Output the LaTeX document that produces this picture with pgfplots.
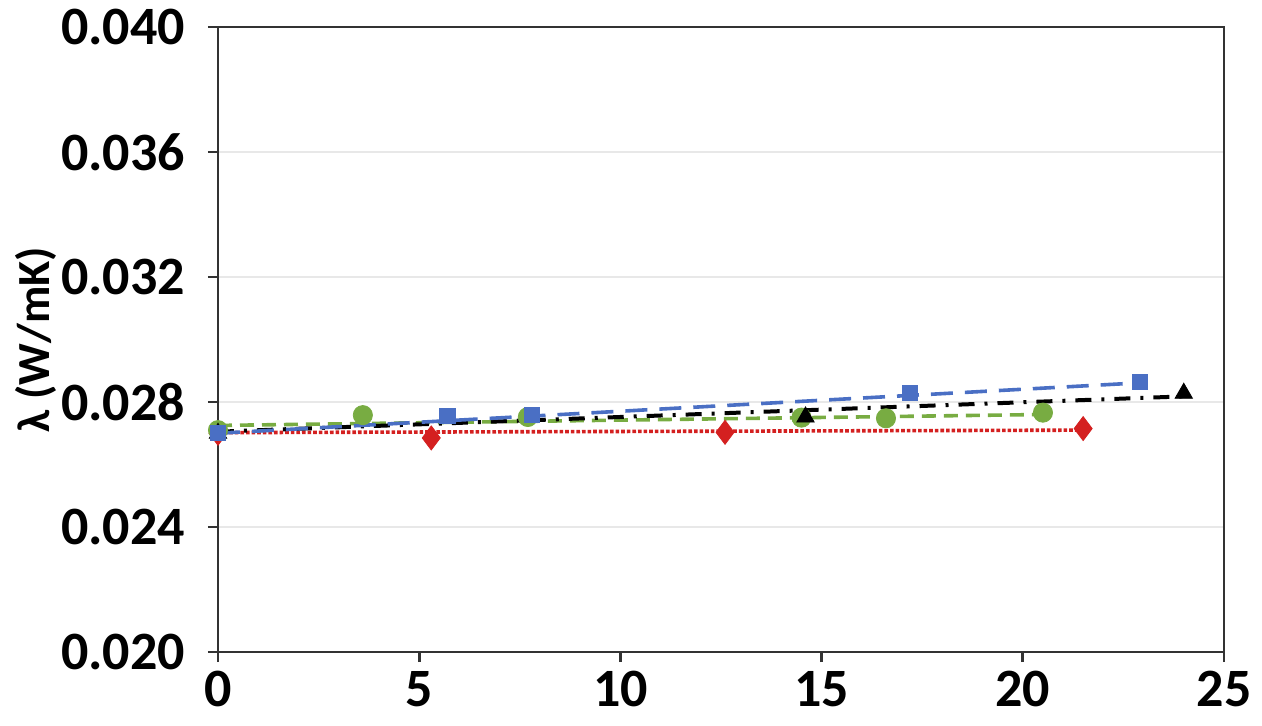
\documentclass[border=0pt]{standalone}
\usepackage{fontspec}
\setmainfont{Carlito}
\usepackage{pgfplots}
\pgfplotsset{compat=1.18}
\definecolor{cblue}{HTML}{4A6FC4}
\definecolor{cred}{HTML}{D42020}
\definecolor{cgreen}{HTML}{78AC42}
\definecolor{cgrid}{HTML}{E8E8E8}
\begin{document}
\begin{tikzpicture}
\path[use as bounding box] (-109pt,-36.5pt) rectangle (522pt,326pt);
\begin{axis}[
  at={(0,0)}, anchor=south west,
  scale only axis, width=503pt, height=312.5pt,
  xmin=0, xmax=25, ymin=0.020, ymax=0.040,
  xtick={0,5,10,15,20,25},
  ytick={0.020,0.024,0.028,0.032,0.036,0.040},
  axis line style={draw=black!80, line width=1.4pt},
  tick style={black!80, line width=1.4pt},
  tick align=outside, major tick length=5pt,
  xtick pos=bottom, ytick pos=left,
  ymajorgrids, grid style={cgrid, line width=0.6pt},
  /pgf/number format/assume math mode=true,
  yticklabel style={/pgf/number format/fixed, /pgf/number format/fixed zerofill, /pgf/number format/precision=3},
  ticklabel style={font=\bfseries\fontsize{27}{27}\selectfont},
  xticklabel style={yshift=-1pt},
  yticklabel style={xshift=-8pt},
  scaled y ticks=false,
  ylabel={λ (W/mK)},
  ylabel style={font=\bfseries\fontsize{23}{23}\selectfont, at={(axis description cs:0,0.5)}, anchor=south, yshift=77pt},
]
% trendlines
\addplot[cred, densely dotted, line width=1.8pt] coordinates {(0,0.02702) (21.5,0.02710)};
\addplot[cgreen, dashed, dash pattern=on 7pt off 4pt, line width=1.8pt] coordinates {(0,0.02725) (20.5,0.02760)};
\addplot[black, dash pattern=on 8pt off 5pt on 1.5pt off 5pt, line width=2pt] coordinates {(0,0.02705) (24,0.02818)};
\addplot[cblue, dash pattern=on 11pt off 6pt, line width=1.8pt] coordinates {(0,0.02700) (23,0.02862)};
% markers
\addplot[only marks, mark=diamond*, mark size=6pt, cred] coordinates {(0,0.02700) (5.3,0.02685) (12.6,0.02703) (21.5,0.02715)};
\addplot[only marks, mark=*, mark size=4.8pt, cgreen] coordinates {(0,0.02710) (3.6,0.02758) (7.7,0.02752) (14.5,0.02750) (16.6,0.02748) (20.5,0.02766)};
\addplot[only marks, mark=triangle*, mark size=5pt, black] coordinates {(0,0.02700) (14.6,0.02752) (24,0.02828)};
\addplot[only marks, mark=square*, mark size=3.8pt, cblue] coordinates {(0,0.02702) (5.7,0.02755) (7.8,0.02760) (17.2,0.02830) (22.9,0.02865)};
\end{axis}
\end{tikzpicture}
\end{document}
